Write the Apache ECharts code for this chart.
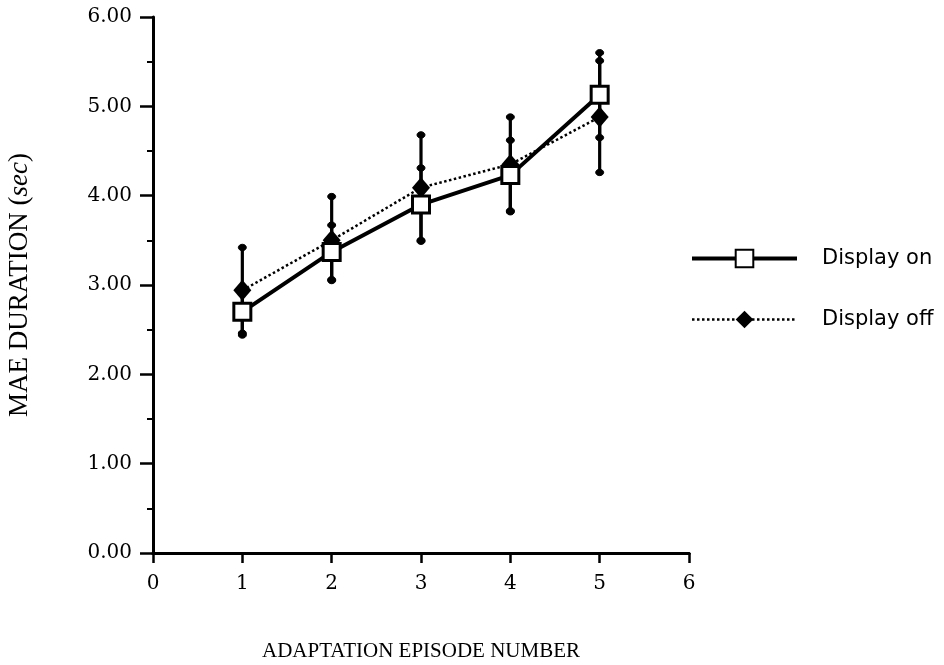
<!DOCTYPE html>
<html>
<head>
<meta charset="utf-8">
<script src="https://cdn.jsdelivr.net/npm/echarts@6/dist/echarts.min.js"></script>
<style>
  html, body { margin: 0; padding: 0; background: #fff; }
  #chart { width: 944px; height: 665px; }
</style>
</head>
<body>
<div id="chart"></div>
<script>
// Adaptation episodes and mean MAE duration (seconds) with error-bar ends
const episodes = [1, 2, 3, 4, 5];
const displayOnMean = [2.70, 3.37, 3.90, 4.23, 5.13];
const displayOnLow  = [2.44, 3.06, 3.49, 3.83, 4.65];
const displayOnHigh = [2.96, 3.67, 4.31, 4.62, 5.60];
const displayOffMean = [2.94, 3.50, 4.09, 4.35, 4.88];
const displayOffLow  = [2.46, 3.05, 3.50, 3.82, 4.26];
const displayOffHigh = [3.42, 3.99, 4.68, 4.88, 5.51];
const seriesNames = ['Display on', 'Display off'];

const serif = '"Liberation Serif", "DejaVu Serif", serif';
const tickFont = '"DejaVu Serif", serif';
const sans = '"DejaVu Sans", sans-serif';

function pairs(xs, ys) { return xs.map((x, i) => [x, ys[i]]); }
function barRows(xs, lo, hi) { return xs.map((x, i) => [x, lo[i], hi[i]]); }

// vertical error bar with small rounded blobs at both ends
function renderErrorBar(params, api) {
  const x = api.value(0);
  const top = api.coord([x, api.value(2)]);
  const bot = api.coord([x, api.value(1)]);
  const st = { fill: '#000', stroke: '#000' };
  return {
    type: 'group',
    children: [
      { type: 'line', shape: { x1: top[0], y1: top[1], x2: bot[0], y2: bot[1] },
        style: { stroke: '#000', lineWidth: 3.2 } },
      { type: 'ellipse', shape: { cx: top[0], cy: top[1], rx: 4, ry: 3.2 }, style: st },
      { type: 'ellipse', shape: { cx: bot[0], cy: bot[1], rx: 4, ry: 3.2 }, style: st }
    ]
  };
}

const chart = echarts.init(document.getElementById('chart'), null, { renderer: 'canvas' });
chart.setOption({
  animation: false,
  backgroundColor: '#fff',
  grid: { left: 153, right: 255, top: 17, bottom: 112, outerBoundsMode: 'none', containLabel: false },
  legend: {
    data: seriesNames,
    orient: 'vertical',
    left: 685,
    top: 243,
    itemWidth: 105,
    itemHeight: 22,
    itemGap: 40,
    lineStyle: { width: 'inherit' },
    textStyle: { fontFamily: sans, fontSize: 21, color: '#000', padding: [0, 0, 0, 20] },
    selectedMode: false
  },
  xAxis: [{
    type: 'value', min: 0, max: 6, interval: 1,
    name: 'ADAPTATION EPISODE NUMBER',
    nameLocation: 'middle', nameGap: 88,
    nameTextStyle: { fontFamily: serif, fontSize: 21, color: '#000' },
    axisLine: { show: true, lineStyle: { color: '#000', width: 3 } },
    axisTick: { show: true, inside: false, length: 10, lineStyle: { color: '#000', width: 2.5 } },
    axisLabel: { fontFamily: tickFont, fontSize: 20, color: '#000', margin: 21 },
    splitLine: { show: false }
  }, {
    type: 'value', position: 'top', min: 0, max: 6,
    axisLine: { show: true, lineStyle: { color: '#000', width: 3 } },
    axisTick: { show: false }, axisLabel: { show: false }, splitLine: { show: false }
  }],
  yAxis: [{
    type: 'value', min: 0, max: 6, interval: 1,
    name: 'MAE DURATION ({i|sec})',
    nameLocation: 'middle', nameGap: 120, nameRotate: 90,
    nameTextStyle: { fontFamily: serif, fontSize: 27, color: '#000',
      rich: { i: { fontFamily: serif, fontSize: 27, fontStyle: 'italic', color: '#000' } } },
    axisLine: { show: true, lineStyle: { color: '#000', width: 3 } },
    axisTick: { show: true, inside: false, length: 13, lineStyle: { color: '#000', width: 2.5 } },
    minorTick: { show: true, splitNumber: 2, length: 6, lineStyle: { color: '#000', width: 2 } },
    axisLabel: { fontFamily: tickFont, fontSize: 20, color: '#000', margin: 21,
      formatter: v => v.toFixed(2) },
    splitLine: { show: false }
  }, {
    type: 'value', position: 'right', min: 0, max: 6,
    axisLine: { show: true, lineStyle: { color: '#000', width: 2 } },
    axisTick: { show: false }, axisLabel: { show: false }, splitLine: { show: false }
  }],
  series: [
    {
      type: 'custom', name: 'off-err', renderItem: renderErrorBar,
      data: barRows(episodes, displayOffLow, displayOffHigh),
      encode: { x: 0, y: [1, 2] }, z: 1, silent: true
    },
    {
      type: 'custom', name: 'on-err', renderItem: renderErrorBar,
      data: barRows(episodes, displayOnLow, displayOnHigh),
      encode: { x: 0, y: [1, 2] }, z: 1, silent: true
    },
    {
      name: seriesNames[1], type: 'line', z: 3,
      data: pairs(episodes, displayOffMean),
      symbol: 'diamond', symbolSize: [18, 21],
      lineStyle: { color: '#000', width: 2.5, type: 'dotted' },
      itemStyle: { color: '#000', borderColor: '#000', borderWidth: 0 }
    },
    {
      name: seriesNames[0], type: 'line', z: 4,
      data: pairs(episodes, displayOnMean),
      symbol: 'rect', symbolSize: 17,
      lineStyle: { color: '#000', width: 4, type: 'solid' },
      itemStyle: { color: '#fff', borderColor: '#000', borderWidth: 3 }
    }
  ]
});
</script>
</body>
</html>
